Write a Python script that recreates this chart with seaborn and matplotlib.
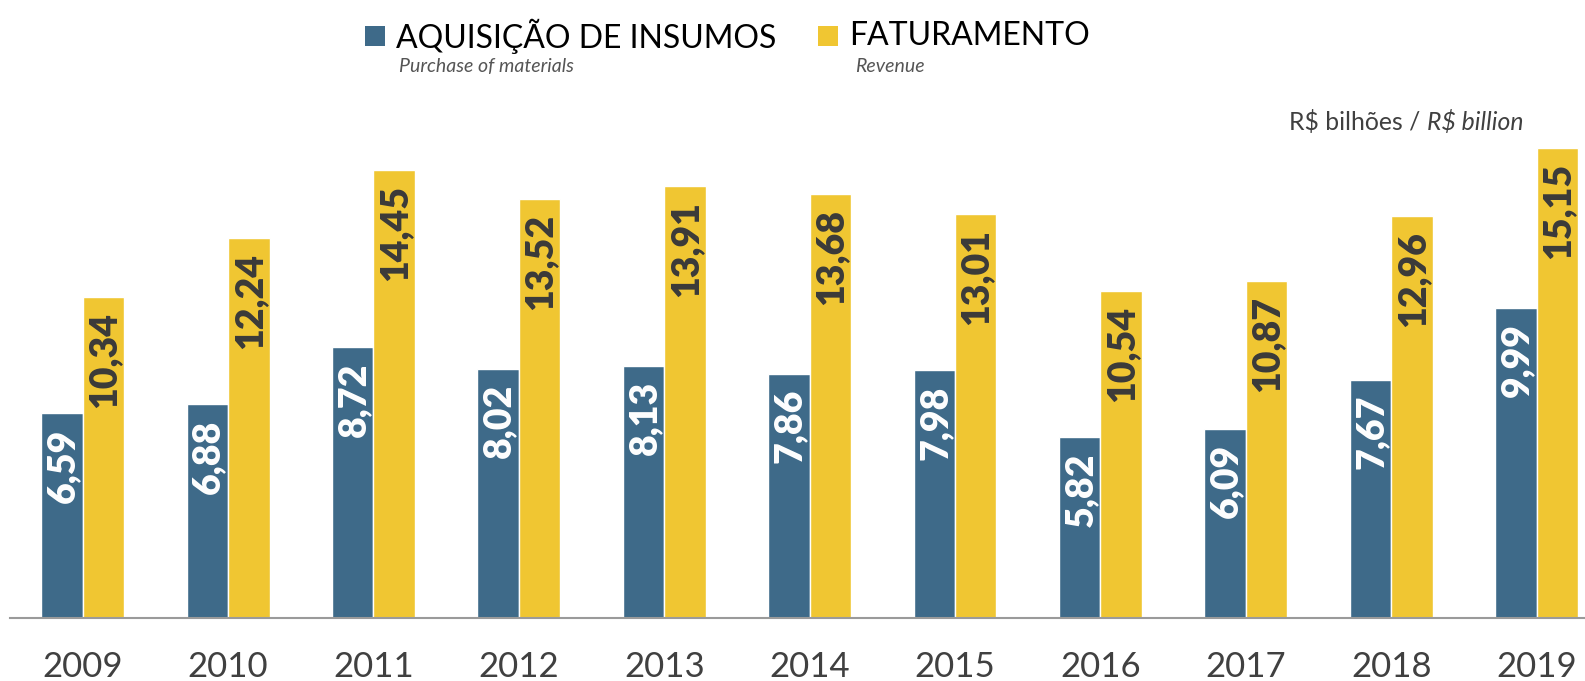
import matplotlib
matplotlib.use("Agg")
import matplotlib.pyplot as plt
import seaborn as sns
import pandas as pd
from matplotlib.patches import Rectangle

years = ["2009", "2010", "2011", "2012", "2013", "2014", "2015", "2016", "2017", "2018", "2019"]
aquisicao = [6.59, 6.88, 8.72, 8.02, 8.13, 7.86, 7.98, 5.82, 6.09, 7.67, 9.99]
faturamento = [10.34, 12.24, 14.45, 13.52, 13.91, 13.68, 13.01, 10.54, 10.87, 12.96, 15.15]
series = ["AQUISIÇÃO DE INSUMOS", "FATURAMENTO"]
subtitles = ["Purchase of materials", "Revenue"]
colors = ["#3E6A89", "#F0C632"]
label_colors = ["white", "#3a3a3a"]

df = pd.DataFrame({
    "year": years * 2,
    "value": aquisicao + faturamento,
    "series": [series[0]] * len(years) + [series[1]] * len(years),
})

sns.set_theme(style="white")
FONT = ["Lato", "DejaVu Sans"]
plt.rcParams["font.family"] = FONT

W, H = 1585, 681
fig = plt.figure(figsize=(W / 100, H / 100), dpi=100)
ax_left = 10 / W
ax_bottom = 1 - 617.7 / H
ax_top = 1 - 100 / H
ax = fig.add_axes([ax_left, ax_bottom, 1 - ax_left, ax_top - ax_bottom])

sns.barplot(data=df, x="year", y="value", hue="series", palette=colors,
            width=0.57, gap=0, saturation=1, ax=ax, legend=False, errorbar=None)

ax.set_xlim(-0.5, 10.333)
ax.set_ylim(0, 517.7 / 31.0)
ax.set_xlabel("")
ax.set_ylabel("")
ax.set_yticks([])
for s in ["left", "right", "top"]:
    ax.spines[s].set_visible(False)
ax.spines["bottom"].set_color("#9a9a9a")
ax.spines["bottom"].set_linewidth(1.5)
ax.tick_params(axis="x", length=0, pad=24, labelsize=25, labelcolor="#404040")

for ci, cont in enumerate(ax.containers):
    for bar in cont:
        h = bar.get_height()
        xc = bar.get_x() + bar.get_width() / 2
        ax.annotate(f"{h:.2f}".replace(".", ","), xy=(xc, h), xytext=(1, -15),
                    textcoords="offset pixels", rotation=90, ha="center", va="top",
                    fontsize=27, fontweight="heavy", color=label_colors[ci])

# Legend (manual)
leg_x = [365, 818]
sub_x = [399, 855]
for i in range(2):
    fig.patches.append(Rectangle((leg_x[i] / W, 1 - 46 / H), 20 / W, 20 / H,
                                 transform=fig.transFigure, facecolor=colors[i],
                                 edgecolor="none"))
    fig.text((leg_x[i] + 31) / W, 1 - 36 / H, series[i], fontsize=23,
             color="black", va="center", ha="left")
    fig.text(sub_x[i] / W, 1 - 66 / H, subtitles[i], fontsize=14, style="italic",
             color="#555555", va="center", ha="left")

# Units label
t1 = fig.text(1289 / W, 1 - 122 / H, "R$ bilhões / ", fontsize=17.8, color="#404040",
              va="center", ha="left")
fig.canvas.draw()
bb = t1.get_window_extent(renderer=fig.canvas.get_renderer())
fig.text(bb.x1 / W, 1 - 122 / H, "R$ billion", fontsize=17.8, color="#404040",
         style="italic", va="center", ha="left")

fig.savefig("out.png", dpi=100)
